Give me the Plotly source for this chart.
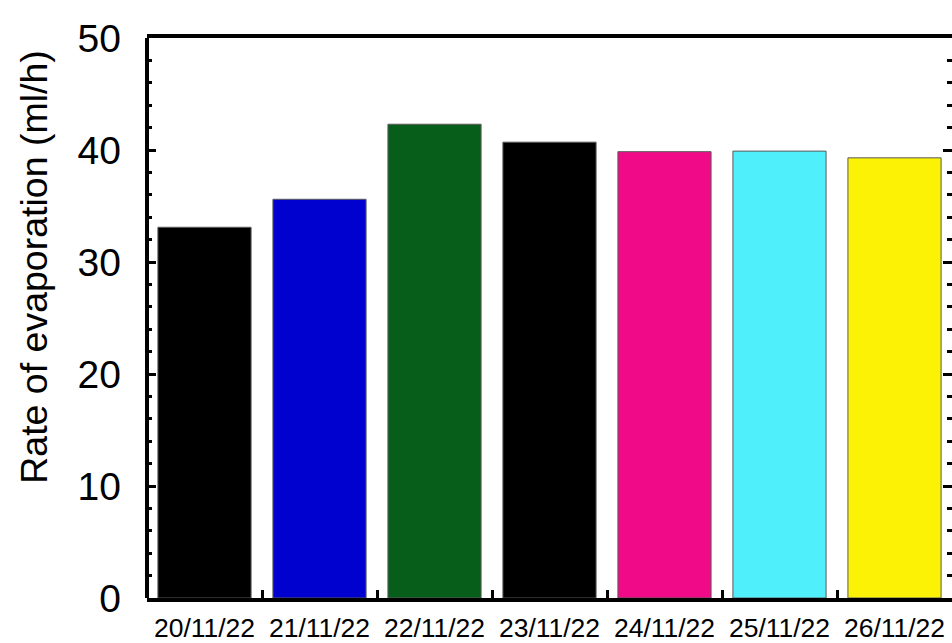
import plotly.graph_objects as go

# Daily evaporation rates
dates = ["20/11/22", "21/11/22", "22/11/22", "23/11/22", "24/11/22", "25/11/22", "26/11/22"]
rates = [33.1, 35.6, 42.3, 40.7, 39.85, 39.9, 39.3]
bar_colors = ["#000000", "#0000CF", "#075E1A", "#000000", "#F00A87", "#50EFFC", "#FBF205"]

y_ticks = [0, 10, 20, 30, 40, 50]
y_title = "Rate of evaporation (ml/h)"

W, H = 952, 643
L, R, T, B = 147, 0, 38, 42
plot_w = W - L - R
plot_h = H - T - B

fig = go.Figure(
    go.Bar(
        x=dates,
        y=rates,
        marker=dict(color=bar_colors, line=dict(color="#5a5a5a", width=1)),
    )
)

fig.update_layout(
    width=W,
    height=H,
    margin=dict(l=L, r=R, t=T, b=B, pad=0),
    paper_bgcolor="white",
    plot_bgcolor="white",
    bargap=0.19,
    showlegend=False,
    font=dict(family="Liberation Sans, Arial, sans-serif", color="black"),
)

fig.update_xaxes(
    type="category",
    showgrid=False,
    zeroline=False,
    showline=True,
    linecolor="black",
    linewidth=4,
    mirror=True,
    ticks="inside",
    tickson="boundaries",
    ticklen=8,
    tickwidth=3,
    tickcolor="black",
    tickfont=dict(size=26.5),
    ticklabelstandoff=3,
)

fig.update_yaxes(
    range=[0, 50],
    tickvals=y_ticks,
    showgrid=False,
    zeroline=False,
    showline=False,
    mirror="ticks",
    ticks="inside",
    ticklen=9,
    tickwidth=3,
    tickcolor="black",
    tickfont=dict(size=39),
    ticklabelstandoff=25,
    minor=dict(dtick=2, ticks="inside", ticklen=5, tickwidth=3, tickcolor="black", showgrid=False),
)

# y-axis title, placed left of the tick labels
fig.add_annotation(
    text=y_title,
    textangle=-90,
    xref="paper", yref="paper",
    x=(34 - L) / plot_w, y=(H - B - 268) / plot_h,
    xanchor="center", yanchor="middle",
    showarrow=False,
    font=dict(size=37.5),
)

# left frame edge
fig.add_shape(
    type="line", xref="paper", yref="paper",
    x0=0, x1=0, y0=0, y1=1,
    line=dict(color="black", width=4),
)

fig.write_html("out.html")
